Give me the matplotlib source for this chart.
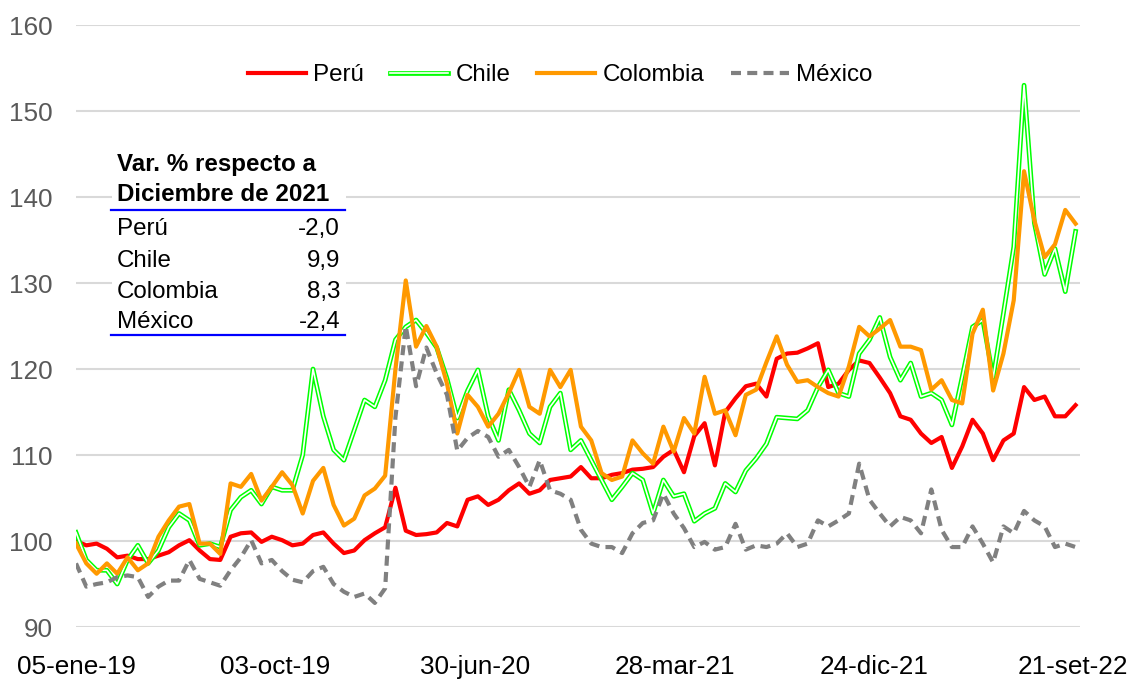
import numpy as np
import matplotlib
matplotlib.use('Agg')
import matplotlib.pyplot as plt
from matplotlib.lines import Line2D
from matplotlib.legend_handler import HandlerTuple
from matplotlib.patches import Rectangle

plt.rcParams['font.family'] = ['Liberation Sans', 'DejaVu Sans']

# fechas cada 14 dias desde 05-ene-19
dates = np.datetime64('2019-01-05') + np.arange(98) * 14

peru = [100.0, 99.5, 99.7, 99.1, 98.1, 98.3, 97.9, 97.9, 98.3, 98.7,
        99.5, 100.1, 98.9, 97.9, 97.8, 100.5, 100.9, 101.0, 99.9, 100.5,
        100.1, 99.5, 99.7, 100.7, 101.0, 99.7, 98.6, 98.9, 100.1, 100.9,
        101.6, 106.2, 101.2, 100.7, 100.8, 101.0, 102.1, 101.7, 104.8, 105.2,
        104.2, 104.8, 105.9, 106.7, 105.5, 105.9, 107.1, 107.3, 107.5, 108.6,
        107.3, 107.3, 107.7, 107.9, 108.3, 108.4, 108.6, 109.8, 110.6, 108.0,
        112.2, 113.7, 108.8, 115.0, 116.6, 118.0, 118.3, 116.8, 121.2, 121.8,
        121.9, 122.4, 123.0, 117.9, 118.3, 119.9, 121.0, 120.7, 119.0, 117.2,
        114.5, 114.1, 112.5, 111.4, 112.1, 108.5, 111.0, 114.1, 112.5, 109.4,
        111.7, 112.5, 117.9, 116.4, 116.8, 114.5, 114.5, 115.8]

chile = [101.0, 97.8, 96.6, 96.6, 95.0, 97.8, 99.5, 97.4, 98.9, 101.6,
         103.2, 102.4, 99.5, 99.7, 99.3, 103.6, 105.1, 105.9, 104.3, 106.3,
         105.9, 105.9, 110.0, 120.0, 114.5, 110.6, 109.4, 112.9, 116.4, 115.6,
         118.7, 123.4, 124.9, 125.7, 124.2, 122.5, 118.9, 114.3, 117.5, 119.9,
         114.5, 111.7, 117.6, 115.2, 112.5, 111.4, 115.6, 117.2, 110.6, 111.7,
         109.4, 107.1, 104.8, 106.3, 107.9, 107.1, 103.2, 107.1, 105.2, 105.5,
         102.3, 103.2, 103.8, 106.7, 105.7, 108.2, 109.6, 111.3, 114.4, 114.3,
         114.2, 115.2, 117.9, 119.9, 117.2, 116.8, 121.8, 123.4, 126.0, 121.4,
         118.7, 120.7, 116.8, 117.2, 116.4, 113.5, 119.1, 124.9, 125.7, 119.0,
         126.5, 134.2, 153.0, 137.0, 131.0, 134.0, 129.0, 136.0]

colombia = [99.7, 97.4, 96.2, 97.4, 96.2, 98.1, 96.6, 97.4, 100.5, 102.4,
            104.0, 104.3, 99.7, 99.7, 98.5, 106.7, 106.3, 107.8, 104.7, 106.3,
            108.0, 106.5, 103.2, 107.0, 108.5, 104.2, 101.8, 102.6, 105.3, 106.1,
            107.6, 120.0, 130.3, 122.6, 125.0, 122.6, 118.3, 112.5, 117.0, 115.6,
            113.3, 114.8, 117.2, 119.9, 115.6, 114.8, 119.9, 117.9, 119.9, 113.3,
            111.7, 107.9, 107.1, 107.5, 111.7, 110.2, 109.0, 113.3, 110.4, 114.3,
            112.5, 119.1, 114.8, 115.2, 112.3, 117.0, 117.6, 120.8, 123.8, 120.5,
            118.5, 118.7, 117.9, 117.2, 116.8, 120.3, 124.9, 123.8, 124.7, 125.7,
            122.6, 122.6, 122.2, 117.6, 118.7, 116.4, 116.0, 124.1, 126.9, 117.5,
            121.8, 128.0, 143.0, 137.3, 133.0, 134.5, 138.5, 136.9]

mexico = [97.4, 94.7, 95.0, 95.2, 95.8, 96.0, 95.8, 93.5, 94.7, 95.4,
          95.4, 97.8, 95.6, 95.2, 94.8, 96.6, 98.1, 100.1, 97.4, 97.8,
          96.5, 95.5, 95.2, 96.5, 97.0, 95.0, 94.1, 93.5, 93.9, 92.8,
          94.5, 114.4, 125.0, 118.0, 122.5, 119.5, 117.0, 110.5, 112.0, 112.8,
          112.1, 109.8, 110.6, 108.6, 106.3, 109.4, 105.9, 105.5, 104.8, 101.3,
          99.7, 99.3, 99.3, 98.6, 100.9, 102.1, 102.4, 105.5, 103.2, 101.5,
          99.3, 99.9, 99.0, 99.3, 102.0, 99.0, 99.5, 99.3, 99.7, 100.9,
          99.3, 99.7, 102.4, 101.7, 102.4, 103.2, 109.0, 104.8, 103.2, 101.7,
          102.8, 102.4, 100.9, 106.0, 101.3, 99.3, 99.3, 101.7, 99.7, 97.5,
          101.7, 100.9, 103.5, 102.4, 101.7, 99.3, 99.7, 99.3]

tick_dates = np.array(['2019-01-05', '2019-10-03', '2020-06-30',
                       '2021-03-28', '2021-12-24', '2022-09-21'], dtype='datetime64[D]')
tick_labels = ['05-ene-19', '03-oct-19', '30-jun-20', '28-mar-21', '24-dic-21', '21-set-22']

tabla_paises = ['Perú', 'Chile', 'Colombia', 'México']
tabla_valores = ['-2,0', '9,9', '8,3', '-2,4']

fig = plt.figure(figsize=(11.31, 6.82), dpi=100)
ax = fig.add_axes([0.0672, 0.0806, 0.8877, 0.8827])

ax.plot(dates, peru, color='#FF0000', lw=3.0, zorder=3)
ax.plot(dates, chile, color='#00FF00', lw=3.4, zorder=4)
ax.plot(dates, chile, color='white', lw=1.2, zorder=4)
ax.plot(dates, colombia, color='#FF9900', lw=3.0, zorder=5)
ax.plot(dates, mexico, color='#808080', lw=3.0, ls=(0, (2.4, 1.5)), zorder=6)

ax.set_ylim(90, 160)
ax.set_yticks(range(90, 161, 10))
ax.set_xlim(np.datetime64('2019-01-05'), np.datetime64('2022-09-30'))
ax.set_xticks(tick_dates)
ax.set_xticklabels(tick_labels)
ax.tick_params(axis='x', length=0, pad=20, labelsize=18.8, labelcolor='black')
ax.tick_params(axis='y', length=0, pad=17, labelsize=18.8, labelcolor='#595959')
ax.grid(axis='y', color='#D9D9D9', lw=1.5)
ax.set_axisbelow(True)
for s in ax.spines.values():
    s.set_visible(False)

# leyenda
h_peru = Line2D([], [], color='#FF0000', lw=3.0)
h_chile = (Line2D([], [], color='#00FF00', lw=3.4), Line2D([], [], color='white', lw=1.2))
h_col = Line2D([], [], color='#FF9900', lw=3.0)
h_mex = Line2D([], [], color='#808080', lw=3.0, ls=(0, (2.4, 1.5)))
ax.legend([h_peru, h_chile, h_col, h_mex], ['Perú', 'Chile', 'Colombia', 'México'],
          handler_map={tuple: HandlerTuple(ndivide=1)},
          loc='center', bbox_to_anchor=(0.482, 0.917), ncol=4, frameon=False,
          fontsize=17.4, handlelength=2.4, handletextpad=0.3, columnspacing=1.1)

# cuadro de variaciones
fs = 17.4
ax.add_patch(Rectangle((0.0359, 0.4817), 0.233, 0.319, transform=ax.transAxes,
                       facecolor='white', edgecolor='none', zorder=7))
ax.text(0.0408, 0.7575, 'Var. % respecto a', transform=ax.transAxes, fontsize=fs,
        fontweight='bold', va='baseline', zorder=8)
ax.text(0.0408, 0.7076, 'Diciembre de 2021', transform=ax.transAxes, fontsize=fs,
        fontweight='bold', va='baseline', zorder=8)
ax.plot([0.0349, 0.268], [0.6927, 0.6927], transform=ax.transAxes, color='#0000FF', lw=1.6, zorder=8)
ax.plot([0.0349, 0.268], [0.4850, 0.4850], transform=ax.transAxes, color='#0000FF', lw=1.6, zorder=8)
row_y = [0.6512, 0.5980, 0.5465, 0.4967]
for yy, p, v in zip(row_y, tabla_paises, tabla_valores):
    ax.text(0.0408, yy, p, transform=ax.transAxes, fontsize=fs, va='baseline', zorder=8)
    ax.text(0.263, yy, v, transform=ax.transAxes, fontsize=fs, va='baseline', ha='right', zorder=8)

fig.savefig('out.png', dpi=100)
